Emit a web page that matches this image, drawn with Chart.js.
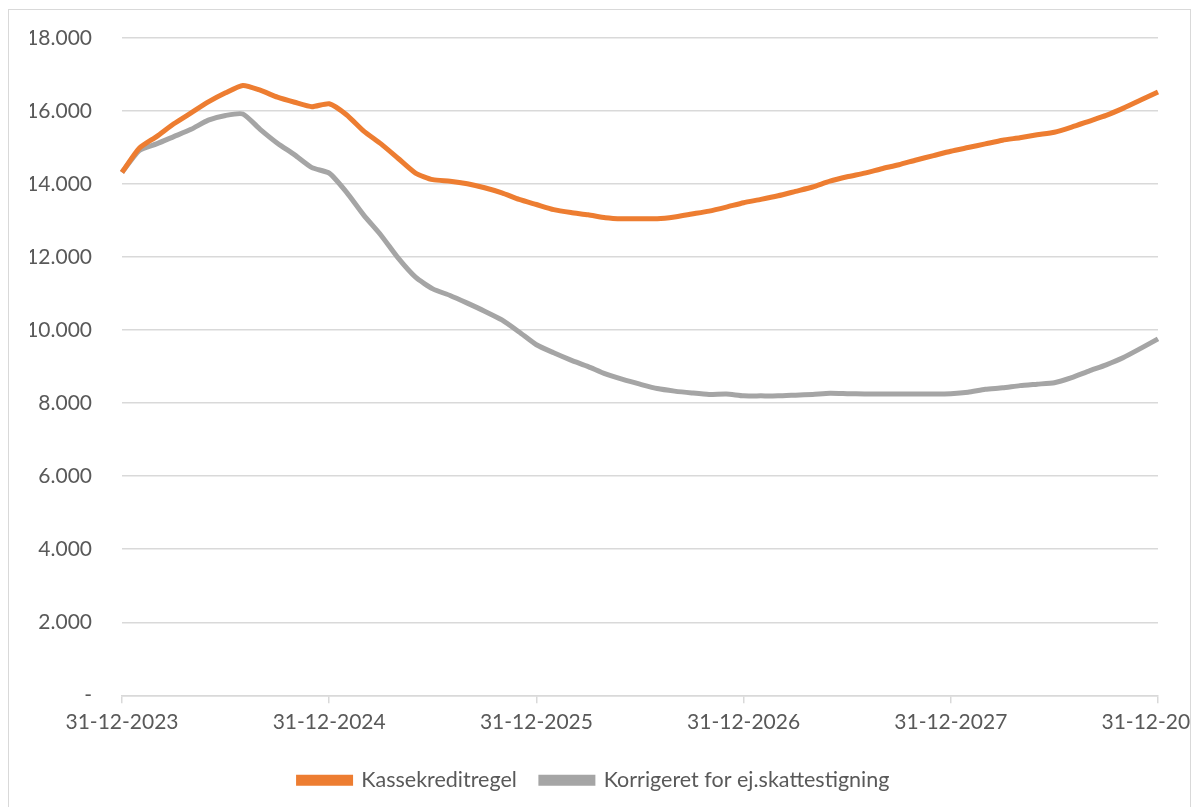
<!DOCTYPE html>
<html>
<head>
<meta charset="utf-8">
<script src="https://cdn.jsdelivr.net/npm/chart.js@4"></script>
<style>
  html, body { margin: 0; padding: 0; background: #fff; overflow: hidden; }
  #wrap { position: absolute; left: 0; top: 0; width: 1191px; height: 807px; }
  #frame { position: absolute; left: 8px; top: 9px; width: 1181px; height: 800px;
           border: 1.5px solid #d9d9d9; pointer-events: none; }
</style>
</head>
<body>
<div id="wrap">
  <canvas id="kreditChart" width="1191" height="807"></canvas>
</div>
<div id="frame"></div>
<script>
// månedlige datoer (ultimo) fra 31-12-2023 til 31-12-2028
var maaneder = [];
for (var i = 0; i <= 60; i++) {
    var d = new Date(2023, 12 + i, 0);
    maaneder.push(String(d.getDate()).padStart(2, '0') + '-' + String(d.getMonth() + 1).padStart(2, '0') + '-' + d.getFullYear());
}

var kassekreditregel = [
    14320, 14980, 15300, 15650, 15950, 16250, 16500, 16700, 16570, 16380, 16240, 16120,
    16200, 15900, 15450, 15100, 14700, 14300, 14120, 14080, 14010, 13900, 13760, 13580,
    13440, 13300, 13220, 13160, 13080, 13050, 13050, 13050, 13100, 13180, 13260, 13370,
    13490, 13580, 13680, 13800, 13920, 14080, 14200, 14300, 14420, 14530, 14660, 14780,
    14900, 15000, 15100, 15200, 15270, 15350, 15420, 15560, 15720, 15880, 16080, 16300,
    16520
];
var korrigeret = [
    14320, 14920, 15100, 15300, 15500, 15750, 15880, 15920, 15500, 15120, 14800, 14450,
    14300, 13780, 13150, 12600, 11970, 11450, 11130, 10950, 10740, 10520, 10280, 9950,
    9600, 9380, 9180, 9000, 8800, 8650, 8520, 8400, 8330, 8280, 8240, 8250,
    8200, 8200, 8200, 8220, 8240, 8270, 8260, 8250, 8250, 8250, 8250, 8250,
    8260, 8300, 8380, 8420, 8480, 8520, 8560, 8700, 8880, 9050, 9250, 9500,
    9760
];
var xTickLabels = ['31-12-2023', '31-12-2024', '31-12-2025', '31-12-2026', '31-12-2027', '31-12-2028'];
var serieNavne = ['Kassekreditregel', 'Korrigeret for ej.skattestigning'];

var tekstFarve = '#595959';
var gitterFarve = '#d9d9d9';
var familie = 'Lato, "Open Sans", sans-serif';

function formatTal(v) {
    if (v === 0) return '-';
    return String(v).replace(/\B(?=(\d{3})+(?!\d))/g, '.');
}

var ctx = document.getElementById('kreditChart').getContext('2d');
var kreditChart = new Chart(ctx, {
    type: 'line',
    data: {
        labels: maaneder,
        datasets: [{
            label: serieNavne[0],
            data: kassekreditregel,
            borderColor: '#ED7D31',
            backgroundColor: '#ED7D31',
            borderWidth: 5,
            pointRadius: 0,
            tension: 0.2
        }, {
            label: serieNavne[1],
            data: korrigeret,
            borderColor: '#A5A5A5',
            backgroundColor: '#A5A5A5',
            borderWidth: 5,
            pointRadius: 0,
            tension: 0.2
        }]
    },
    options: {
        responsive: false,
        animation: false,
        layout: {
            padding: { left: 30, right: 33, top: 38, bottom: 6 }
        },
        scales: {
            x: {
                offset: false,
                grid: {
                    drawOnChartArea: false,
                    drawTicks: true,
                    tickLength: 8,
                    lineWidth: 1.5,
                    color: function (c) {
                        var lbl = maaneder[c.index];
                        return xTickLabels.indexOf(lbl) >= 0 ? gitterFarve : 'rgba(0,0,0,0)';
                    }
                },
                border: { color: gitterFarve, width: 1.5 },
                ticks: {
                    autoSkip: false,
                    maxRotation: 0,
                    minRotation: 0,
                    padding: 6,
                    color: tekstFarve,
                    font: { family: familie, size: 21 },
                    callback: function (val, idx) {
                        var lbl = maaneder[idx];
                        return xTickLabels.indexOf(lbl) >= 0 ? lbl : '';
                    }
                },
                afterFit: function (scale) {
                    // lad sidste etiket blive klippet af rammen som i Excel
                    scale.paddingRight = 0;
                    scale.paddingLeft = 0;
                    scale.height += 5;
                }
            },
            y: {
                min: 0,
                max: 18000,
                grid: {
                    color: gitterFarve,
                    lineWidth: 1.5,
                    drawTicks: false
                },
                border: { display: false },
                ticks: {
                    stepSize: 2000,
                    padding: 30,
                    color: tekstFarve,
                    font: { family: familie, size: 21 },
                    callback: function (v) { return formatTal(v); }
                },
                afterFit: function (scale) {
                    scale.width = 92;
                    scale.paddingTop = 0;
                    scale.paddingBottom = 0;
                }
            }
        },
        plugins: {
            legend: {
                position: 'bottom',
                labels: {
                    boxWidth: 52,
                    boxHeight: 6,
                    padding: 24,
                    color: tekstFarve,
                    font: { family: familie, size: 21.5 }
                }
            },
            title: { display: false },
            tooltip: { enabled: false }
        }
    }
});
</script>
</body>
</html>
